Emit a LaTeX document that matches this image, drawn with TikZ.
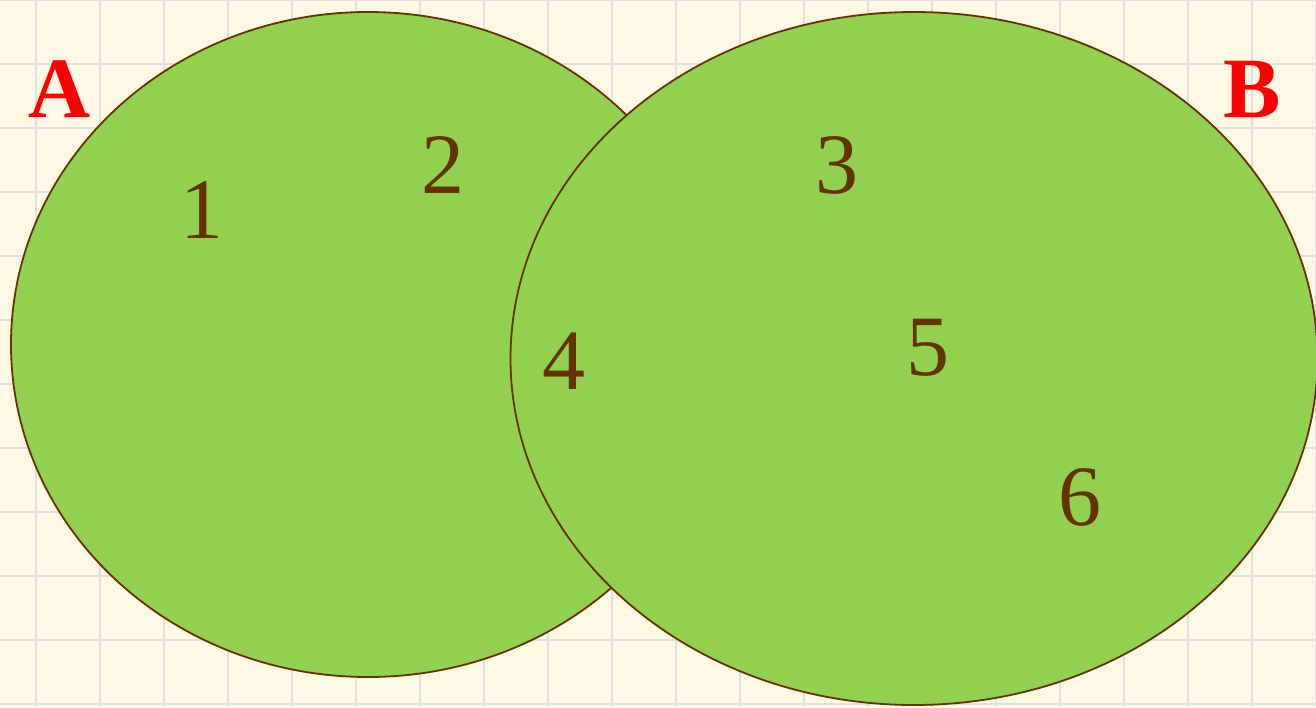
\documentclass[tikz,border=0pt]{standalone}
\usepackage{fontspec}
\setmainfont{Liberation Serif}
\definecolor{bgcream}{HTML}{FFF8E4}
\definecolor{gridgray}{HTML}{E0E0E0}
\definecolor{setgreen}{HTML}{92D050}
\definecolor{edgebrown}{HTML}{663300}
\definecolor{labelred}{HTML}{FF0000}
\tikzset{
  setshape/.style={fill=setgreen, draw=edgebrown, line width=1.8pt},
  elem/.style={anchor=base, inner sep=0pt, text=edgebrown, font=\fontsize{86}{86}\selectfont},
  setname/.style={anchor=base, inner sep=0pt, text=labelred, font=\fontsize{86}{86}\selectfont\bfseries},
}
\begin{document}
\begin{tikzpicture}[x=1pt,y=-1pt]
\useasboundingbox (0,0) rectangle (1316,707);
\fill[bgcream] (0,0) rectangle (1316,707);
\foreach \k in {0,...,20} \draw[gridgray, line width=2pt] (36+64*\k,0) -- (36+64*\k,707);
\foreach \k in {0,...,11} \draw[gridgray, line width=2pt] (0,-0.5+64*\k) -- (1316,-0.5+64*\k);
\draw[setshape] (368,344.5) ellipse [x radius=357, y radius=332.5];
\draw[setshape] (914,358.5) ellipse [x radius=403.5, y radius=346.5];
\node[setname] (A) at (60,117) {A};
\node[setname] (B) at (1252.5,117) {B};
\node[elem] (e1) at (202,238) {1};
\node[elem] (e2) at (443,193) {2};
\node[elem] (e3) at (836.5,193) {3};
\node[elem] (e4) at (564,389) {4};
\node[elem] (e5) at (927.5,375) {5};
\node[elem] (e6) at (1079.5,525) {6};
\end{tikzpicture}
\end{document}
